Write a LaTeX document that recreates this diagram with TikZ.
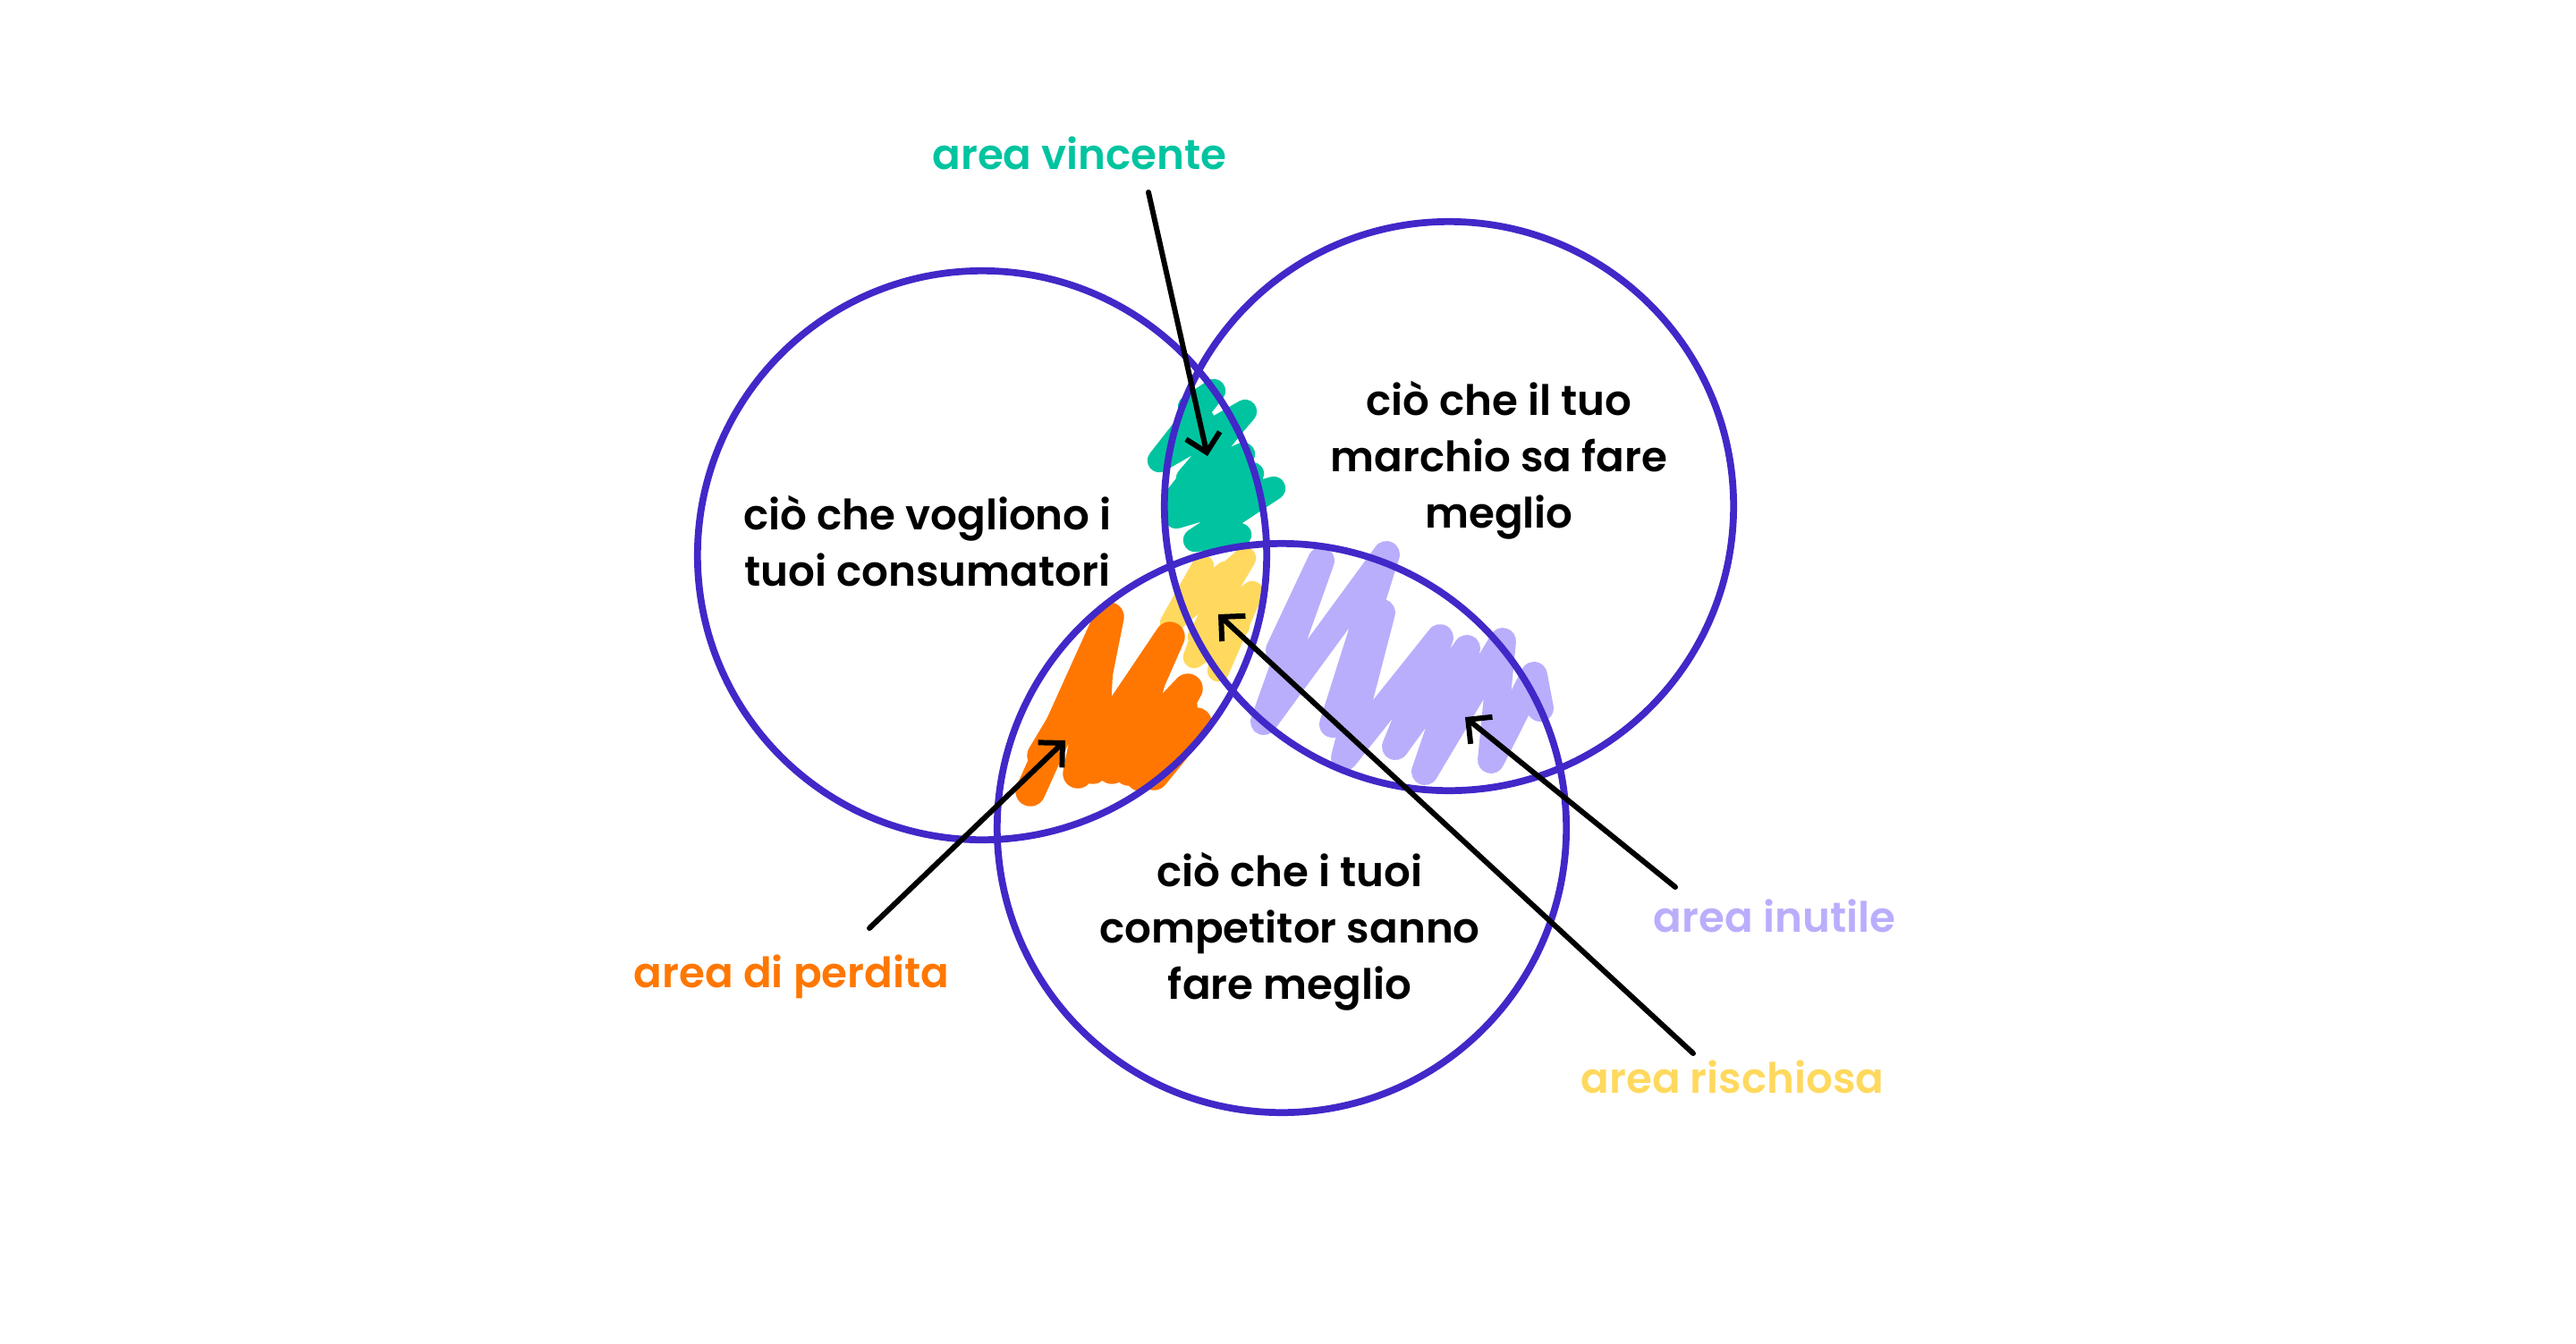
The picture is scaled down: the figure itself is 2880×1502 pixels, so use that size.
\documentclass[tikz,border=0pt]{standalone}
\usepackage{fontspec}
\IfFontExistsTF{Poppins SemiBold}{\setmainfont{Poppins SemiBold}}{%
  \IfFontExistsTF{Poppins Medium}{\setmainfont{Poppins Medium}}{\setmainfont{Poppins}[FakeBold=1.6]}}
\usetikzlibrary{arrows.meta}
\definecolor{ringblue}{RGB}{65,40,200}
\definecolor{litegreen}{RGB}{0,196,160}
\definecolor{liteorange}{RGB}{255,119,0}
\definecolor{litelilac}{RGB}{185,174,252}
\definecolor{liteyellow}{RGB}{255,217,94}

\begin{document}
\begin{tikzpicture}[line cap=round,line join=round,x=0.01cm,y=-0.01cm,
    every node/.style={inner sep=0pt,font=\fontsize{13.3}{17.9}\selectfont},
    scribble/.style={line width=7pt},
    ring/.style={line width=2.2pt,color=ringblue},
    pointer/.style={line width=1.7pt,-{Straight Barb[length=5.5pt,width=11pt]}},
    areatext/.style={anchor=base},
    bodytext/.style={align=center}]

    \useasboundingbox (0,0) rectangle (2880,1502);

    % scribbles
    \draw [scribble,color=litegreen,line width=7.5pt] (1330,455) -- (1357,437) -- (1296,515) -- (1392,460) -- (1328,535) -- (1390,508) -- (1315,578) -- (1424,546) -- (1336,604) -- (1386,598);
    \draw [scribble,color=litegreen,line width=7.5pt] (1345,470) -- (1318,500) -- (1375,480) -- (1312,560) -- (1400,530);
    \draw [scribble,color=liteyellow] (1345,633) -- (1309,697) -- (1392,624) -- (1340,712) -- (1400,662) -- (1362,750);
    \draw [scribble,color=liteyellow] (1320,680) -- (1370,640) -- (1335,735) -- (1385,700);
    \draw [scribble,color=liteorange,line width=9.5pt] (1152,885) -- (1240,690) -- (1205,865) -- (1308,712) -- (1243,860) -- (1328,770) -- (1275,868) -- (1338,808) -- (1290,867);
    \draw [scribble,color=liteorange,line width=9.5pt] (1165,845) -- (1228,740) -- (1222,860) -- (1290,745) -- (1262,862) -- (1322,790);
    \draw [scribble,color=litelilac,line width=8.5pt] (1430,727) -- (1477,627) -- (1413,807) -- (1550,620) -- (1490,810) -- (1545,685) -- (1503,847) -- (1610,713) -- (1560,835) -- (1640,725) -- (1593,863) -- (1680,717) -- (1667,850) -- (1715,755) -- (1722,792);

    % circles
    \draw [ring] (1098,621) circle [radius=3.18cm];
    \draw [ring] (1620,566) circle [radius=3.18cm];
    \draw [ring] (1433,926) circle [radius=3.18cm];

    % texts
    \node [bodytext] (consumatori) at (1037,605) {ciò che vogliono i\\tuoi consumatori};
    \node [bodytext] (marchio) at (1676,515) {ciò che il tuo\\marchio sa fare\\meglio};
    \node [bodytext] (competitor) at (1442,1042) {ciò che i tuoi\\competitor sanno\\fare meglio};
    \node [areatext,color=litegreen] (vincente) at (1207,189) {area vincente};
    \node [areatext,color=liteorange] (perdita) at (885,1104) {area di perdita};
    \node [areatext,color=litelilac] (inutile) at (1984,1042) {area inutile};
    \node [areatext,color=liteyellow] (rischiosa) at (1937,1222) {area rischiosa};

    % arrows
    \coordinate (vincente-from) at (1284,215);
    \coordinate (vincente-to) at (1350,510);
    \coordinate (perdita-from) at (972,1038);
    \coordinate (perdita-to) at (1191,828);
    \coordinate (inutile-from) at (1873,992);
    \coordinate (inutile-to) at (1638,802);
    \coordinate (rischiosa-from) at (1893,1178);
    \coordinate (rischiosa-to) at (1362,687);
    \draw [pointer] (vincente-from) -- (vincente-to);
    \draw [pointer] (perdita-from) -- (perdita-to);
    \draw [pointer] (inutile-from) -- (inutile-to);
    \draw [pointer] (rischiosa-from) -- (rischiosa-to);
\end{tikzpicture}
\end{document}
